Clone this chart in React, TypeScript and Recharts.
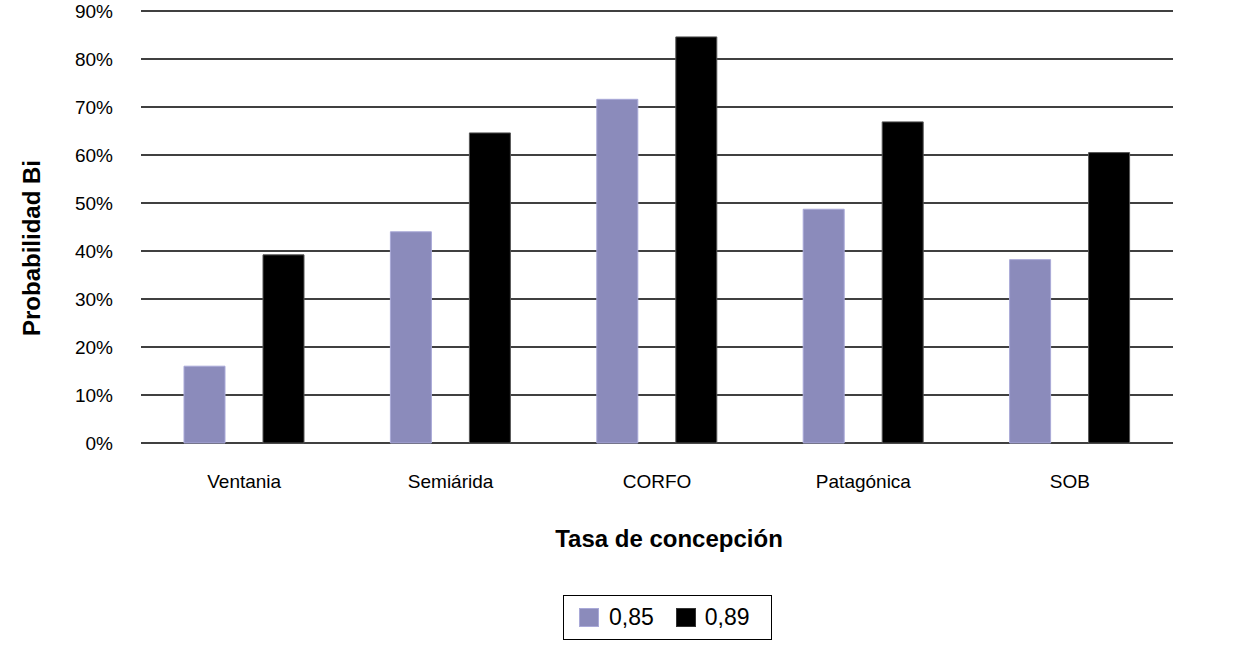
import React from 'react';
import { BarChart, Bar, XAxis, YAxis, CartesianGrid, Legend, Label } from 'recharts';

const categories = ['Ventania', 'Semiárida', 'CORFO', 'Patagónica', 'SOB'];
const series085 = [0.16, 0.44, 0.716, 0.487, 0.382];
const series089 = [0.392, 0.646, 0.846, 0.669, 0.605];
const yTicks = [0, 0.1, 0.2, 0.3, 0.4, 0.5, 0.6, 0.7, 0.8, 0.9];
const seriesNames = ['0,85', '0,89'];
const seriesColors = ['#8b8bbb', '#000000'];

const data = categories.map((c, i) => ({ name: c, a: series085[i], b: series089[i] }));

const FONT = '"Liberation Sans", Arial, Helvetica, sans-serif';

const LegendBox = (props: any) => {
  const payload = props.payload || [];
  return (
    <div
      style={{
        boxSizing: 'border-box',
        width: 209,
        height: 45,
        border: '1.5px solid #000',
        display: 'flex',
        alignItems: 'center',
        paddingLeft: 15,
        fontFamily: FONT,
        fontSize: 23,
        color: '#000',
        background: '#fff',
      }}
    >
      {payload.map((p: any, i: number) => (
        <div key={i} style={{ display: 'flex', alignItems: 'center', marginRight: i === 0 ? 22 : 0 }}>
          <span
            style={{
              display: 'inline-block',
              width: 20,
              height: 19,
              background: p.color,
              border: i === 0 ? '1px solid #a9a9d8' : '1px solid #333',
              boxSizing: 'border-box',
              marginRight: i === 0 ? 10 : 9,
            }}
          />
          <span>{p.value}</span>
        </div>
      ))}
    </div>
  );
};

export default function App() {
  return (
    <div style={{ position: 'absolute', left: 0, top: 0, width: 1240, height: 650, background: '#fff' }}>
      <BarChart
        width={1240}
        height={650}
        data={data}
        margin={{ top: 11, right: 67, bottom: 177, left: 0 }}
        barSize={41}
        barGap={38}
      >
        <CartesianGrid horizontal vertical={false} stroke="#000" strokeWidth={1.6} />
        <XAxis
          dataKey="name"
          height={30}
          axisLine={false}
          tickLine={false}
          tickSize={0}
          tickMargin={32}
          tick={{ fill: '#000', fontSize: 19, fontFamily: FONT }}
          interval={0}
        >
          <Label
            content={() => (
              <text x={669} y={547} textAnchor="middle" fontFamily={FONT} fontSize={24} fontWeight="bold" fill="#000">
                Tasa de concepción
              </text>
            )}
          />
        </XAxis>
        <YAxis
          width={141}
          domain={[0, 0.9]}
          ticks={yTicks}
          axisLine={false}
          tickLine={false}
          tickSize={0}
          tickMargin={28}
          tickFormatter={(v: number) => `${Math.round(v * 100)}%`}
          tick={{ fill: '#000', fontSize: 19, fontFamily: FONT }}
        >
          <Label
            content={() => (
              <text
                transform="translate(40,248) rotate(-90)"
                x={0}
                y={0}
                textAnchor="middle"
                fontFamily={FONT}
                fontSize={24}
                fontWeight="bold"
                fill="#000"
              >
                Probabilidad Bi
              </text>
            )}
          />
        </YAxis>
        <Legend
          layout="horizontal"
          verticalAlign="middle"
          align="center"
          content={LegendBox}
          wrapperStyle={{ position: 'absolute', left: 563, top: 595, width: 209, height: 45 }}
        />
        <Bar dataKey="a" name={seriesNames[0]} fill={seriesColors[0]} stroke="#a9a9d8" strokeWidth={1} isAnimationActive={false} />
        <Bar dataKey="b" name={seriesNames[1]} fill={seriesColors[1]} stroke="#555" strokeWidth={1} isAnimationActive={false} />
      </BarChart>
    </div>
  );
}
